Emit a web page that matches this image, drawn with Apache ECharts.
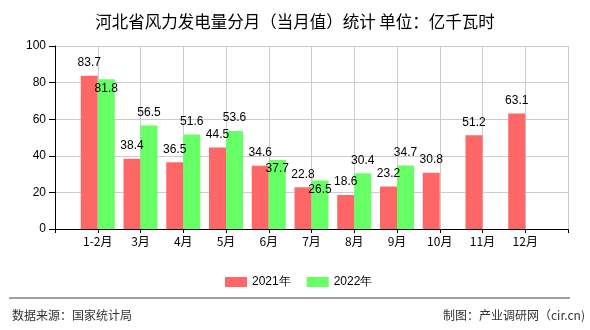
<!DOCTYPE html>
<html>
<head>
<meta charset="utf-8">
<script src="https://cdn.jsdelivr.net/npm/echarts@6/dist/echarts.min.js"></script>
<style>html,body{margin:0;padding:0;background:#fff}#c{width:590px;height:330px}</style>
</head>
<body>
<div id="c"></div>
<script>
var categories = ['1-2月','3月','4月','5月','6月','7月','8月','9月','10月','11月','12月'];
var values2021 = [83.7, 38.4, 36.5, 44.5, 34.6, 22.8, 18.6, 23.2, 30.8, 51.2, 63.1];
var values2022 = [81.8, 56.5, 51.6, 53.6, 37.7, 26.5, 30.4, 34.7, null, null, null];
var insideLabel2022 = [true, false, false, false, true, true, false, false, false, false, false];
var yTicks = [0, 20, 40, 60, 80, 100];

var axisCats = [''].concat(categories).concat(['']);
var labelFont = {fontFamily: 'Liberation Sans', fontSize: 12, color: '#000'};

function pad(arr, mapFn) {
  var out = ['-'];
  arr.forEach(function (v, i) { out.push(v == null ? '-' : mapFn(v, i)); });
  out.push('-');
  return out;
}

var d2021 = pad(values2021, function (v) { return v; });
var d2022 = pad(values2022, function (v, i) {
  if (insideLabel2022[i]) {
    return {value: v, label: {position: 'insideTop', distance: 3}};
  }
  return v;
});

var chart = echarts.init(document.getElementById('c'), null, {renderer: 'canvas'});
chart.setOption({
  animation: false,
  backgroundColor: '#fff',
  title: {
    text: '河北省风力发电量分月（当月值）统计 单位：亿千瓦时',
    left: 'center',
    top: 8,
    textStyle: {fontFamily: 'Noto Sans CJK SC', fontSize: 16.5, fontWeight: 'normal', color: '#000'}
  },
  legend: {
    left: 220,
    top: 271,
    itemWidth: 22,
    itemHeight: 10,
    itemGap: 16,
    icon: 'rect',
    textStyle: {fontFamily: 'Liberation Sans', fontSize: 12, color: '#000'},
    data: ['2021年', '2022年']
  },
  grid: {left: 55, right: 22, top: 46, bottom: 101, containLabel: false},
  xAxis: {
    type: 'category',
    data: axisCats,
    boundaryGap: false,
    axisLine: {lineStyle: {color: '#000', width: 1}},
    axisTick: {show: true, interval: 0, length: 4, lineStyle: {color: '#000'}},
    axisLabel: {interval: 0, fontFamily: 'Noto Sans CJK SC', fontSize: 12, color: '#000', margin: 6},
    splitLine: {show: true, interval: 0, lineStyle: {color: '#cccccc', width: 1}}
  },
  yAxis: {
    type: 'value',
    min: yTicks[0],
    max: yTicks[yTicks.length - 1],
    interval: 20,
    axisLine: {show: true, lineStyle: {color: '#000', width: 1}},
    axisTick: {show: true, length: 6, lineStyle: {color: '#000'}},
    axisLabel: {fontFamily: 'Liberation Sans', fontSize: 12, color: '#000', margin: 9},
    splitLine: {show: true, lineStyle: {color: '#cccccc', width: 1}}
  },
  series: [
    {
      name: '2021年',
      type: 'bar',
      data: d2021,
      barWidth: 17,
      barGap: '0%',
      itemStyle: {color: '#ff6666'},
      label: Object.assign({show: true, position: 'top', distance: 7}, labelFont)
    },
    {
      name: '2022年',
      type: 'bar',
      data: d2022,
      barWidth: 17,
      barGap: '0%',
      itemStyle: {color: '#66ff66'},
      label: Object.assign({show: true, position: 'top', distance: 7}, labelFont)
    }
  ],
  graphic: [
    {type: 'line', shape: {x1: 9, y1: 298, x2: 570, y2: 298}, style: {stroke: '#808080', lineWidth: 1.5}},
    {type: 'text', left: 12, top: 309, style: {text: '数据来源：国家统计局', font: '12px "Noto Sans CJK SC"', fill: '#333'}},
    {type: 'text', right: 5, top: 309, style: {text: '制图：产业调研网（cir.cn)', font: '12px "Noto Sans CJK SC"', fill: '#333'}}
  ]
});
</script>
</body>
</html>
